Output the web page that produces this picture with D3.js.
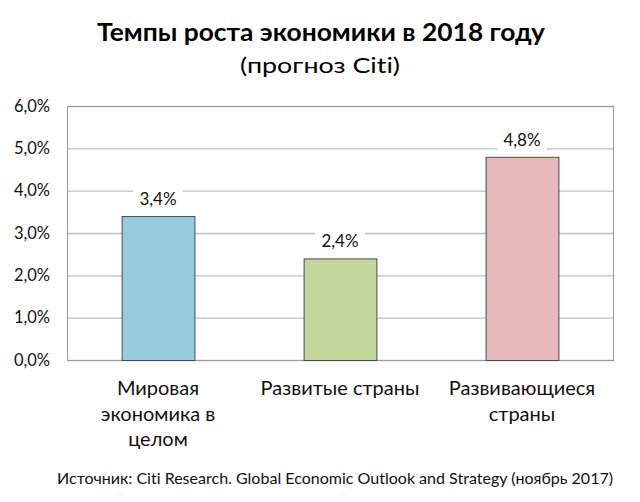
<!DOCTYPE html>
<html><head><meta charset="utf-8">
<script src="https://cdn.jsdelivr.net/npm/d3@7"></script>
<style>body{margin:0;background:#fff}svg{display:block}text{font-variant-ligatures:none;font-feature-settings:"liga" 0}</style>
</head><body>
<svg id="c" width="640" height="502"></svg>
<script>
const categories = [["Мировая","экономика в","целом"],["Развитые страны"],["Развивающиеся","страны"]];
const values = [3.4, 2.4, 4.8];
const colors = ["#93CDDD","#C3D69B","#E6B9B8"];
const yTicks = [0,1,2,3,4,5,6];
const title = "Темпы роста экономики в 2018 году";
const subtitle = "(прогноз Citi)";
const source = "Источник: Citi Research. Global Economic Outlook and Strategy (ноябрь 2017)";

const font = "Lato, 'Open Sans', sans-serif";
const svg = d3.select("#c");
const m = {left:67, right:613, top:106, bottom:360};
const x = d3.scaleBand().domain(d3.range(values.length)).range([m.left,m.right]).paddingInner(0.6).paddingOuter(0.3);
const y = d3.scaleLinear().domain([0,6]).range([m.bottom,m.top]);
const fmt = v => d3.format(".1f")(v).replace(".",",") + "%";

svg.append("text").attr("x",321).attr("y",41).attr("text-anchor","middle")
  .attr("font-family",font).attr("font-weight","bold").attr("font-size",24).attr("fill","#000")
  .attr("textLength",448).attr("lengthAdjust","spacingAndGlyphs").text(title);
svg.append("text").attr("x",320).attr("y",73).attr("text-anchor","middle")
  .attr("font-family",font).attr("font-size",22).attr("fill","#000")
  .attr("textLength",160).attr("lengthAdjust","spacingAndGlyphs").text(subtitle);

// gridlines
svg.append("g").selectAll("line").data(yTicks).join("line")
  .attr("x1",m.left).attr("x2",m.right).attr("y1",d=>y(d)+0.5).attr("y2",d=>y(d)+0.5)
  .attr("stroke","#BFBFBF").attr("stroke-width",1.3);
// border
svg.append("rect").attr("x",m.left+0.5).attr("y",m.top+0.5).attr("width",m.right-m.left).attr("height",m.bottom-m.top)
  .attr("fill","none").attr("stroke","#9A9A9A").attr("stroke-width",1);

// y axis
const yAxis = d3.axisLeft(y).tickValues(yTicks).tickSize(0).tickPadding(17).tickFormat(d=>fmt(d));
const ga = svg.append("g").attr("transform",`translate(${m.left},0)`).call(yAxis);
ga.select(".domain").remove();
ga.selectAll("text").attr("font-family",font).attr("font-size",16.5).attr("fill","#111");

// bars
svg.append("g").selectAll("rect").data(values).join("rect")
  .attr("x",(d,i)=>x(i)+0.5).attr("y",d=>y(d)+0.5).attr("width",x.bandwidth()).attr("height",d=>y(0)-y(d))
  .attr("fill",(d,i)=>colors[i]).attr("stroke","#4a4a4a").attr("stroke-width",1);

// value labels with white boxes
const lg = svg.append("g").selectAll("g").data(values).join("g")
  .attr("transform",(d,i)=>`translate(${x(i)+x.bandwidth()/2},${y(d)-17})`);
lg.append("rect").attr("x",-25).attr("y",-13).attr("width",50).attr("height",25).attr("fill","#fff");
lg.append("text").attr("text-anchor","middle").attr("dy","0.35em")
  .attr("font-family",font).attr("font-size",17).attr("fill","#111").text(d=>fmt(d));

// category labels
const cg = svg.append("g").selectAll("text").data(categories).join("text")
  .attr("x",(d,i)=>x(i)+x.bandwidth()/2).attr("y",395).attr("text-anchor","middle")
  .attr("font-family",font).attr("font-size",20).attr("fill","#111");
cg.selectAll("tspan").data(d=>d).join("tspan")
  .attr("x",function(){return this.parentNode.getAttribute("x");}).attr("dy",(d,i)=>i?25.5:0).text(d=>d);

svg.append("text").attr("x",335).attr("y",484).attr("text-anchor","middle")
  .attr("font-family",font).attr("font-size",15).attr("fill","#111")
  .attr("textLength",556).attr("lengthAdjust","spacingAndGlyphs").text(source);
</script>
</body></html>
